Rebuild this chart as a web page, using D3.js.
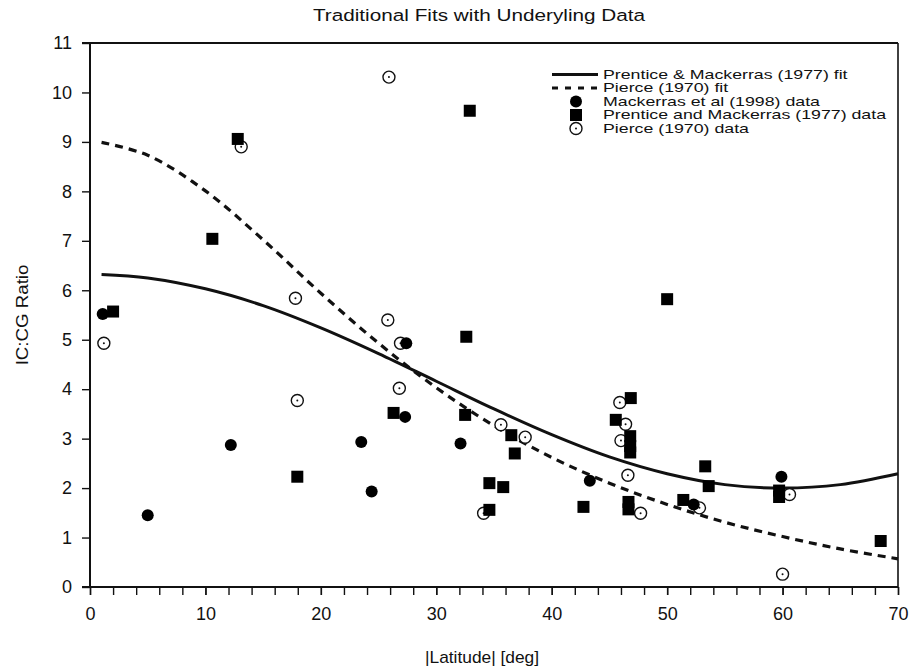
<!DOCTYPE html>
<html>
<head>
<meta charset="utf-8">
<script src="https://cdn.jsdelivr.net/npm/d3@7"></script>
<style>
  html, body { margin: 0; padding: 0; background: #fff; }
  svg { display: block; }
  text { font-family: "Liberation Sans", Arial, Helvetica, sans-serif; fill: #111; }
</style>
</head>
<body>
<svg id="chart" width="913" height="671"></svg>
<script>
// ---- Data ----
const title = "Traditional Fits with Underyling Data";
const xLabel = "|Latitude| [deg]";
const yLabel = "IC:CG Ratio";

const xTicksMajor = [0, 10, 20, 30, 40, 50, 60, 70];
const xTicksMinor = [0,2,4,6,8,10,12,14,16,18,20,22,24,26,28,30,32,34,36,38,40,42,44,46,48,50,52,54,56,58,60,62,64,66,68,70];
const yTicks = [0,1,2,3,4,5,6,7,8,9,10,11];

// Fit curves
const fitLat = [1, 5, 10, 15, 20, 25, 30, 35, 40, 45, 50, 55, 60, 65, 70];
const prenticeFit = [6.32, 6.25, 6.03, 5.69, 5.24, 4.72, 4.16, 3.60, 3.08, 2.63, 2.29, 2.07, 2.00, 2.07, 2.29];
const pierceFit   = [8.99, 8.73, 8.01, 7.02, 5.94, 4.93, 4.03, 3.26, 2.62, 2.10, 1.67, 1.31, 1.02, 0.77, 0.57];

// Mackerras et al (1998) data  [latitude, ratio]
const mackerras1998 = [
  [1.1, 5.52], [5.0, 1.45], [12.2, 2.87], [23.5, 2.93], [24.4, 1.93],
  [27.4, 4.93], [27.3, 3.44], [32.1, 2.90], [43.3, 2.15], [52.3, 1.67], [59.9, 2.23]
];
// Prentice and Mackerras (1977) data
const prentice1977 = [
  [2.0, 5.57], [10.6, 7.04], [12.8, 9.06], [17.96, 2.23], [26.3, 3.52],
  [32.6, 5.06], [32.9, 9.63], [32.5, 3.48], [34.6, 2.10], [35.8, 2.02],
  [34.6, 1.56], [36.5, 3.07], [36.8, 2.70], [42.75, 1.62], [45.55, 3.38],
  [46.85, 3.82], [46.8, 3.05], [46.8, 2.85], [46.8, 2.72], [46.65, 1.72],
  [46.65, 1.57], [50.0, 5.82], [51.4, 1.76], [53.3, 2.44], [53.6, 2.04],
  [59.7, 1.95], [59.7, 1.82], [68.5, 0.93]
];
// Pierce (1970) data
const pierce1970 = [
  [1.2, 4.93], [13.1, 8.90], [17.8, 5.84], [17.96, 3.77], [25.9, 10.31],
  [25.8, 5.40], [26.9, 4.93], [26.8, 4.02], [34.1, 1.49], [35.6, 3.28],
  [37.7, 3.03], [45.9, 3.73], [46.4, 3.29], [46.0, 2.96], [46.6, 2.26],
  [47.7, 1.49], [52.8, 1.60], [60.6, 1.87], [60.0, 0.26]
];

const legendLabels = [
  "Prentice & Mackerras (1977) fit",
  "Pierce (1970) fit",
  "Mackerras et al (1998) data",
  "Prentice and Mackerras (1977) data",
  "Pierce (1970) data"
];

// ---- Layout ----
const svg = d3.select("#chart");
const x = d3.scaleLinear().domain([0, 70]).range([90, 898]);
const y = d3.scaleLinear().domain([0, 11]).range([587, 43]);

// Title
svg.append("text").attr("transform", "translate(479,21) scale(1.22,1)").attr("text-anchor", "middle")
  .style("font-size", "17px").text(title);

// Axes
const xAxisMinor = d3.axisBottom(x).tickValues(xTicksMinor).tickSize(8).tickFormat("");
svg.append("g").attr("transform", `translate(0,${y(0)})`).call(xAxisMinor)
  .call(g => g.select(".domain").remove())
  .call(g => g.selectAll("line").attr("stroke", "#111").attr("stroke-width", 1.4));

const xAxis = d3.axisBottom(x).tickValues(xTicksMajor).tickSize(8).tickPadding(12).tickFormat(d3.format("d"));
svg.append("g").attr("transform", `translate(0,${y(0)})`).call(xAxis)
  .call(g => g.select(".domain").remove())
  .call(g => g.selectAll("line").attr("stroke", "#111").attr("stroke-width", 1.4))
  .call(g => g.selectAll("text").style("font-size", "18px").attr("fill", "#111"));

const yAxis = d3.axisLeft(y).tickValues(yTicks).tickSize(8).tickPadding(10).tickFormat(d3.format("d"));
svg.append("g").attr("transform", `translate(${x(0)},0)`).call(yAxis)
  .call(g => g.select(".domain").remove())
  .call(g => g.selectAll("line").attr("stroke", "#111").attr("stroke-width", 1.4))
  .call(g => g.selectAll("text").style("font-size", "18px").attr("fill", "#111"));

// Frame
svg.append("line").attr("x1", x(0) - 8).attr("x2", x(70)).attr("y1", y(0)).attr("y2", y(0))
  .attr("stroke", "#111").attr("stroke-width", 2);
svg.append("line").attr("x1", x(0)).attr("x2", x(0)).attr("y1", y(11)).attr("y2", y(0))
  .attr("stroke", "#111").attr("stroke-width", 2);
svg.append("line").attr("x1", x(0) - 8).attr("x2", x(70)).attr("y1", y(11)).attr("y2", y(11))
  .attr("stroke", "#111").attr("stroke-width", 2);
svg.append("line").attr("x1", x(70)).attr("x2", x(70)).attr("y1", y(11)).attr("y2", y(0))
  .attr("stroke", "#111").attr("stroke-width", 1.6);

// Axis labels
svg.append("text").attr("transform", "translate(482,663) scale(1.02,1)").attr("text-anchor", "middle")
  .style("font-size", "17px").text(xLabel);
svg.append("text").attr("transform", `translate(28,${y(5.5)}) rotate(-90) scale(1.1,1)`)
  .attr("text-anchor", "middle").style("font-size", "17px").text(yLabel);

// Fit lines
const line = d3.line().x((d, i) => x(fitLat[i])).y(d => y(d)).curve(d3.curveCatmullRom);
svg.append("path").datum(pierceFit).attr("d", line).attr("fill", "none")
  .attr("stroke", "#111").attr("stroke-width", 3.2).attr("stroke-dasharray", "8,6");
svg.append("path").datum(prenticeFit).attr("d", line).attr("fill", "none")
  .attr("stroke", "#111").attr("stroke-width", 3);

// Markers
function openCircle(g, cx, cy) {
  g.append("circle").attr("cx", cx).attr("cy", cy).attr("r", 6)
    .attr("fill", "#fff").attr("stroke", "#111").attr("stroke-width", 1.4);
  g.append("circle").attr("cx", cx).attr("cy", cy).attr("r", 1).attr("fill", "#111");
}
const gOpen = svg.append("g");
pierce1970.forEach(d => openCircle(gOpen, x(d[0]), y(d[1])));

svg.append("g").selectAll("rect").data(prentice1977).join("rect")
  .attr("x", d => x(d[0]) - 6).attr("y", d => y(d[1]) - 6)
  .attr("width", 12).attr("height", 12).attr("fill", "#000");

svg.append("g").selectAll("circle").data(mackerras1998).join("circle")
  .attr("cx", d => x(d[0])).attr("cy", d => y(d[1])).attr("r", 6).attr("fill", "#000");

// Legend
const lg = svg.append("g");
const rowY = [74.5, 88, 101.5, 115, 128.5];
const tx = 603, mx = 576;
lg.append("line").attr("x1", 552).attr("x2", 598).attr("y1", rowY[0]).attr("y2", rowY[0])
  .attr("stroke", "#111").attr("stroke-width", 3);
lg.append("line").attr("x1", 552).attr("x2", 598).attr("y1", rowY[1]).attr("y2", rowY[1])
  .attr("stroke", "#111").attr("stroke-width", 3.2).attr("stroke-dasharray", "6,7");
lg.append("circle").attr("cx", mx).attr("cy", rowY[2]).attr("r", 6).attr("fill", "#000");
lg.append("rect").attr("x", mx - 6).attr("y", rowY[3] - 6).attr("width", 12).attr("height", 12).attr("fill", "#000");
openCircle(lg, mx, rowY[4]);
legendLabels.forEach((t, i) => {
  lg.append("text").attr("transform", `translate(${tx},${rowY[i]}) scale(1.48,1)`).attr("dy", "0.35em")
    .style("font-size", "12px").text(t);
});
</script>
</body>
</html>
